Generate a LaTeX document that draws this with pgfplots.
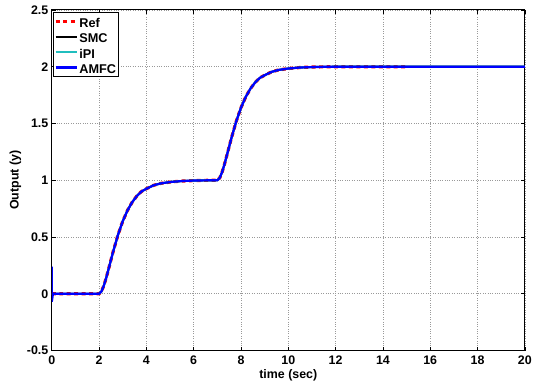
\documentclass[border=0pt]{standalone}
\usepackage{pgfplots}
\pgfplotsset{compat=1.18}
\usepackage{pgfplotstable}
\usepackage{fontspec}
\setmainfont{Liberation Sans}
\definecolor{ipicyan}{RGB}{32,190,190}

\pgfplotstableread{
t y
0 0
2 0
2.1 0.020
2.2 0.071
2.3 0.139
2.4 0.217
2.5 0.296
2.6 0.375
2.8 0.519
3.0 0.639
3.2 0.734
3.4 0.807
3.6 0.862
3.8 0.902
4.0 0.925
4.3 0.955
4.6 0.972
5.0 0.984
5.5 0.993
6.0 0.997
6.5 0.999
7.0 1.000
7.1 1.020
7.2 1.071
7.3 1.139
7.4 1.217
7.5 1.296
7.6 1.375
7.8 1.519
8.0 1.639
8.2 1.734
8.4 1.807
8.6 1.862
8.8 1.902
9.0 1.925
9.3 1.955
9.6 1.972
10.0 1.984
10.5 1.993
11.0 1.997
11.5 1.999
12.0 2.000
15.0 2.000
}\refdata

\pgfplotstableread{
t y
0 0
2 0
2.1 0.020
2.2 0.071
2.3 0.139
2.4 0.217
2.5 0.296
2.6 0.375
2.8 0.519
3.0 0.639
3.2 0.734
3.4 0.807
3.6 0.862
3.8 0.902
4.0 0.925
4.3 0.955
4.6 0.972
5.0 0.984
5.5 0.993
6.0 0.997
6.5 0.999
7.0 1.000
7.1 1.020
7.2 1.071
7.3 1.139
7.4 1.217
7.5 1.296
7.6 1.375
7.8 1.519
8.0 1.639
8.2 1.734
8.4 1.807
8.6 1.862
8.8 1.902
9.0 1.925
9.3 1.955
9.6 1.972
10.0 1.984
10.5 1.993
11.0 1.997
11.5 1.999
12.0 2.000
20.0 2.000
}\ctrldata

\pgfplotstableread{
t y
0 0.24
0 -0.07
0.05 0
2 0
2.1 0.020
2.2 0.071
2.3 0.139
2.4 0.217
2.5 0.296
2.6 0.375
2.8 0.519
3.0 0.639
3.2 0.734
3.4 0.807
3.6 0.862
3.8 0.902
4.0 0.925
4.3 0.955
4.6 0.972
5.0 0.984
5.5 0.993
6.0 0.997
6.5 0.999
7.0 1.000
7.1 1.020
7.2 1.071
7.3 1.139
7.4 1.217
7.5 1.296
7.6 1.375
7.8 1.519
8.0 1.639
8.2 1.734
8.4 1.807
8.6 1.862
8.8 1.902
9.0 1.925
9.3 1.955
9.6 1.972
10.0 1.984
10.5 1.993
11.0 1.997
11.5 1.999
12.0 2.000
20.0 2.000
}\amfcdata

\begin{document}
\begin{tikzpicture}
\begin{axis}[
  name=ax,
  scale only axis,
  width=475bp, height=342bp,
  xmin=0, xmax=20, ymin=-0.5, ymax=2.5,
  xtick={0,2,...,20},
  ytick={-0.5,0,0.5,1,1.5,2,2.5},
  tick align=inside,
  major tick length=4bp,
  axis line style={line width=1bp},
  every tick/.style={black, line width=0.6bp},
  grid=major,
  major grid style={dotted, gray!80, line width=0.6bp},
  /pgf/number format/assume math mode=true,
  tick label style={font=\fontsize{12.5}{14}\selectfont\bfseries},
  label style={font=\fontsize{12.5}{14}\selectfont\bfseries},
  xlabel={time (sec)},
  ylabel={Output (y)},
  xlabel style={yshift=2bp},
  ylabel style={yshift=-1bp},
  xticklabel style={yshift=-2bp},
  yticklabel style={xshift=0bp},
  legend cell align=left,
  legend style={at={(0.002,0.994)}, anchor=north west,
    draw=black, line width=0.8bp, fill=white,
    font=\fontsize{12.5}{14}\selectfont\bfseries,
    inner sep=1bp, row sep=0bp, column sep=0bp,
    nodes={font=\fontsize{12.8}{14}\selectfont\bfseries,
      inner ysep=0bp, inner xsep=1.2bp, text height=14bp, text depth=1.5bp}},
  legend image code/.code={\draw[#1] (5bp,0bp) -- (26bp,0bp);},
]
\addplot[red, line width=3.2bp, dash pattern=on 4bp off 3.5bp] table[x=t,y=y] {\refdata};
\addlegendentry{Ref}
\addplot[black, line width=2bp] table[x=t,y=y] {\ctrldata};
\addlegendentry{SMC}
\addplot[ipicyan, line width=2bp] table[x=t,y=y] {\ctrldata};
\addlegendentry{iPI}
\addplot[blue, line width=2.2bp] table[x=t,y=y] {\amfcdata};
\addlegendentry{AMFC}
\end{axis}
\path (ax.south west) ++(-52bp,-34bp) (ax.north east) ++(8bp,10bp);
\end{tikzpicture}
\end{document}
